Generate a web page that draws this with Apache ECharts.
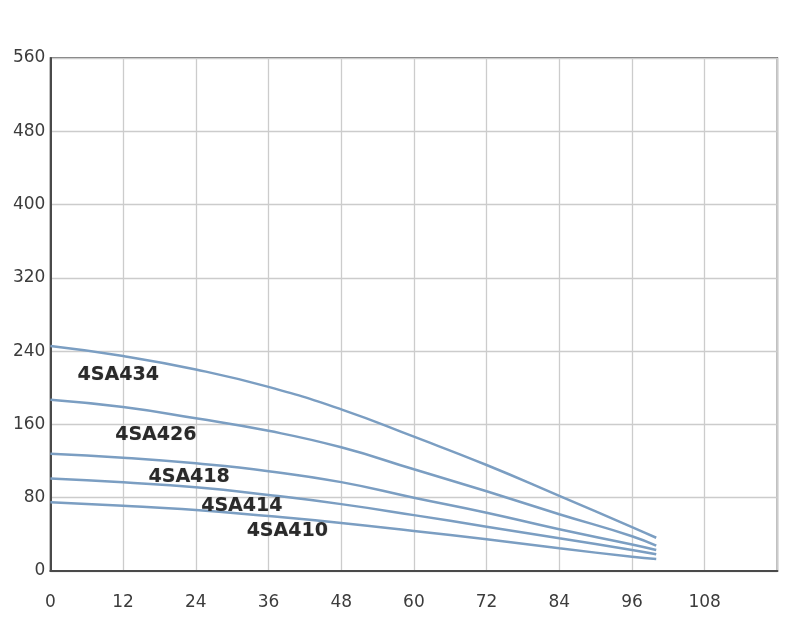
<!DOCTYPE html>
<html><head><meta charset="utf-8">
<script src="https://cdn.jsdelivr.net/npm/echarts@6/dist/echarts.min.js"></script>
<style>html,body{margin:0;padding:0;background:#fff}#c{width:800px;height:626px}</style>
</head><body><div id="c"></div>
<script>
var flow = [0, 12, 24, 36, 48, 60, 72, 84, 96, 100];
var s434 = [245.6, 234.7, 220, 201, 176.5, 146.6, 115.7, 82, 48, 36.3];
var s426 = [187, 179, 166.7, 153, 135, 111, 87, 62, 38, 27.6];
var s418 = [128, 123.7, 117.5, 109, 97, 80, 63.6, 45.5, 29, 23];
var s414 = [101, 96.8, 91.4, 83, 73, 61, 48.4, 35.7, 23, 18.2];
var s410 = [75, 71.3, 66.6, 60, 52.5, 43.7, 34.6, 24.8, 15.6, 13.1];
var names = ['4SA434', '4SA426', '4SA418', '4SA414', '4SA410'];
var labelPos = [[11.2, 214], [17.4, 148.5], [22.9, 102.6], [31.6, 71], [39.1, 43.7]];
var allSeries = [s434, s426, s418, s414, s410];

var chart = echarts.init(document.getElementById('c'));
var series = allSeries.map(function (vals, i) {
  return {
    name: names[i], type: 'line', smooth: 0.5, symbol: 'none',
    lineStyle: { color: '#7b9ec2', width: 2.5 },
    data: flow.map(function (x, j) { return [x, vals[j]]; }),
    markPoint: {
      symbol: 'circle', symbolSize: 0, silent: true,
      data: [{ coord: labelPos[i], value: names[i] }],
      label: { show: true, position: 'inside', formatter: names[i],
        fontFamily: 'DejaVu Sans', fontWeight: 'bold', fontSize: 19, color: '#2a2a2a',
        textShadowColor: 'rgba(0,0,0,0.2)', textShadowBlur: 1, textShadowOffsetX: 0.5, textShadowOffsetY: 0.5 }
    }
  };
});
chart.setOption({
  animation: false,
  grid: { left: 50.4, right: 22.6, top: 58, bottom: 55, show: true, borderColor: '#4a4a4a', borderWidth: 1.5 },
  xAxis: { type: 'value', min: 0, max: 120, interval: 12,
    axisLine: { show: true, lineStyle: { color: '#4a4a4a', width: 2 } },
    axisTick: { show: false },
    splitLine: { show: true, lineStyle: { color: '#cccccc', width: 1.3 } },
    axisLabel: { showMaxLabel: false, margin: 23, fontFamily: 'DejaVu Sans', fontSize: 17, color: '#3c3c3c' } },
  yAxis: { type: 'value', min: 0, max: 560, interval: 80,
    axisLine: { show: true, lineStyle: { color: '#4a4a4a', width: 2 } },
    axisTick: { show: false },
    splitLine: { show: true, lineStyle: { color: '#cccccc', width: 1.3 } },
    axisLabel: { margin: 5, fontFamily: 'DejaVu Sans', fontSize: 17, color: '#3c3c3c', padding: [3, 0, 0, 0] } },
  series: series
});
</script></body></html>
